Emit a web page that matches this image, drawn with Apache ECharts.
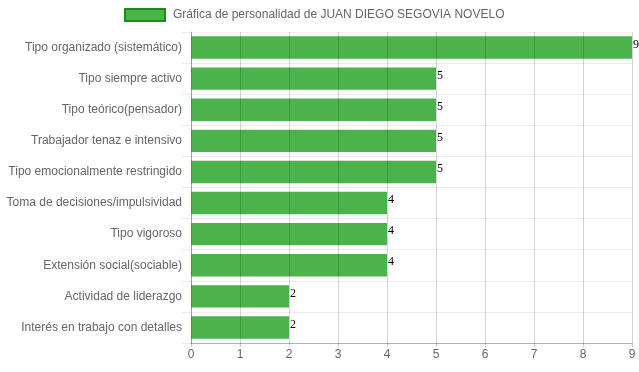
<!DOCTYPE html>
<html><head><meta charset="utf-8">
<script src="https://cdn.jsdelivr.net/npm/echarts@6/dist/echarts.min.js"></script>
<style>html,body{margin:0;padding:0;background:#fff}#c{width:639px;height:372px}</style>
</head><body><div id="c"></div>
<script>
const seriesName = 'Gráfica de personalidad de JUAN DIEGO SEGOVIA NOVELO';
const categories = [
  'Tipo organizado (sistemático)',
  'Tipo siempre activo',
  'Tipo teórico(pensador)',
  'Trabajador tenaz e intensivo',
  'Tipo emocionalmente restringido',
  'Toma de decisiones/impulsividad',
  'Tipo vigoroso',
  'Extensión social(sociable)',
  'Actividad de liderazgo',
  'Interés en trabajo con detalles'
];
const values = [9, 5, 5, 5, 5, 4, 4, 4, 2, 2];
const xTicks = [0, 9, 1]; // min, max, interval

const chart = echarts.init(document.getElementById('c'), null, {renderer: 'canvas'});
chart.setOption({
  animation: false,
  textStyle: {fontFamily: 'Liberation Sans, Arial, sans-serif'},
  legend: {
    top: 3,
    left: 119,
    icon: 'rect',
    itemWidth: 40,
    itemHeight: 12,
    textStyle: {color: '#666', fontSize: 12, padding: [0, 0, 0, 3], fontFamily: 'Liberation Sans, Arial, sans-serif'},
    itemStyle: {borderColor: '#1e8a1e', borderWidth: 2},
    data: [seriesName]
  },
  grid: {left: 191, right: 7, top: 32, bottom: 29, containLabel: false},
  xAxis: {
    type: 'value',
    min: xTicks[0], max: xTicks[1], interval: xTicks[2],
    z: 5,
    axisLine: {show: true, lineStyle: {color: 'rgba(0,0,0,0.25)', width: 1}},
    axisTick: {show: true, length: 4, lineStyle: {color: 'rgba(0,0,0,0.2)'}},
    splitLine: {show: true, lineStyle: {color: 'rgba(0,0,0,0.17)', width: 1}},
    axisLabel: {color: '#666', fontSize: 12, margin: 6, fontFamily: 'Liberation Sans, Arial, sans-serif'}
  },
  yAxis: {
    type: 'category',
    inverse: true,
    data: categories,
    axisLine: {show: true, lineStyle: {color: 'rgba(0,0,0,0.25)', width: 1}},
    axisTick: {show: true, length: 10, lineStyle: {color: 'rgba(0,0,0,0.07)'}},
    splitLine: {show: true, lineStyle: {color: 'rgba(0,0,0,0.07)', width: 1}},
    axisLabel: {color: '#666', fontSize: 12, margin: 9, fontFamily: 'Liberation Sans, Arial, sans-serif'}
  },
  series: [{
    name: seriesName,
    type: 'bar',
    data: values,
    barCategoryGap: '28%',
    itemStyle: {color: 'rgb(76,178,76)'},
    label: {
      show: true,
      position: 'right',
      distance: 1,
      offset: [0, -3],
      color: '#000',
      fontSize: 12,
      fontFamily: 'Liberation Serif, Times New Roman, serif'
    }
  }]
});
</script></body></html>
